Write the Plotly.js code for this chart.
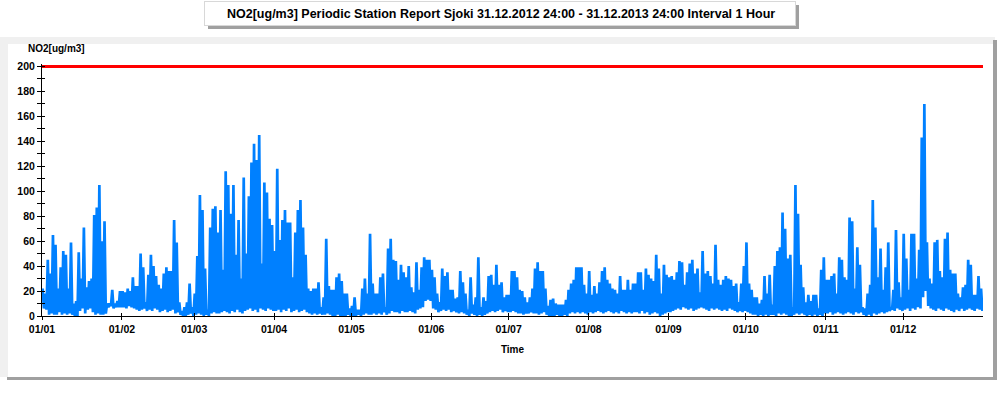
<!DOCTYPE html>
<html>
<head>
<meta charset="utf-8">
<script src="https://cdn.plot.ly/plotly-3.0.1.min.js"></script>
<style>
html,body{margin:0;padding:0;background:#ffffff;}
#chart{width:1004px;height:397px;}
</style>
</head>
<body>
<div id="chart"></div>
<script>
// ---------- data ----------
const chartTitle = 'NO2[ug/m3] Periodic Station Report Sjoki 31.12.2012 24:00 - 31.12.2013 24:00 Interval 1 Hour';
const yTitle = 'NO2[ug/m3]';
const xTitle = 'Time';
const monthStarts = ['2013-01-01','2013-02-01','2013-03-01','2013-04-01','2013-05-01','2013-06-01',
                     '2013-07-01','2013-08-01','2013-09-01','2013-10-01','2013-11-01','2013-12-01'];
const tickLabels = ['01/01','01/02','01/03','01/04','01/05','01/06','01/07','01/08','01/09','01/10','01/11','01/12'];
const yTicks = [0,20,40,60,80,100,120,140,160,180,200];
const limitValue = 200;          // red limit line
const startDate = '2013-01-01';
const endDate = '2014-01-01';

// daily maxima of the hourly series, one array per month
const maxJan = [22,18,45,34,65,57,22,39,52,49,22,59,10,12,51,30,71,23,28,30,81,87,105,60,76,10,10,21,10,12,20];
const maxFeb = [20,19,22,20,31,24,24,50,39,11,33,49,40,32,25,22,34,39,36,36,77,59,11,4,7,11,26,7];
const maxMar = [18,48,97,85,38,5,71,86,88,67,85,37,116,105,82,105,49,77,30,111,50,96,123,138,125,145,42,107,99,78,73];
const maxApr = [52,118,61,77,85,75,75,31,67,85,93,71,49,22,20,22,22,27,7,15,62,24,21,21,31,34,28,18,18,6];
const maxMay = [8,15,5,5,22,30,18,66,26,18,18,31,34,7,54,62,45,44,29,41,35,31,40,23,19,43,21,39,47,45,45];
const maxJun = [37,31,18,11,38,32,35,21,21,14,15,36,27,18,5,31,9,15,47,7,15,12,32,33,25,41,25,27,15,17];
const maxJul = [17,36,36,31,21,20,15,11,15,22,38,43,36,36,22,8,13,14,10,9,9,9,13,21,26,29,39,39,39,25,18];
const maxAug = [36,17,24,18,27,36,39,29,26,22,21,18,32,21,21,29,21,26,26,35,35,21,38,33,30,28,49,38,18,41,33];
const maxSep = [31,32,29,35,44,43,25,35,42,45,34,38,19,52,34,36,32,26,57,29,25,29,32,30,29,24,26,11,26,40];
const maxOct = [59,26,21,15,15,10,13,32,18,33,9,40,52,55,83,70,46,49,7,105,82,41,23,11,17,12,17,17,6,37,47];
const maxNov = [29,29,32,34,18,47,45,31,29,79,76,22,55,41,7,6,18,25,93,71,31,54,21,39,59,7,21,69,27,15];
const maxDec = [66,46,21,66,66,30,53,143,170,59,30,26,59,61,36,31,62,67,37,34,34,18,15,23,25,45,41,17,17,32,22];

// daily minima of the hourly series, one array per month
const minJan = [6,5,1,2,1,1,3,1,2,1,2,1,0,0,4,6,2,5,6,3,1,2,1,1,2,7,8,6,7,7,7];
const minFeb = [7,6,8,7,6,5,4,5,6,4,5,4,6,5,3,4,5,3,4,5,2,3,1,0,0,1,2,0];
const minMar = [1,2,1,0,1,0,2,3,2,2,3,4,3,2,4,3,5,3,2,4,5,6,4,5,3,6,5,4,6,5,4];
const minApr = [4,5,3,5,4,6,3,4,5,3,4,5,3,2,1,2,1,2,1,1,2,1,0,0,1,0,0,0,1,0];
const minMay = [0,0,1,0,1,2,1,1,2,1,2,1,3,1,2,4,3,3,2,4,3,3,4,3,2,5,6,7,12,13,12];
const minJun = [6,5,3,4,5,4,5,3,4,3,2,3,2,1,0,2,1,0,1,0,1,2,3,4,3,4,5,3,4,3];
const minJul = [3,4,3,2,2,1,2,2,3,2,2,1,2,3,1,0,0,0,1,0,0,1,0,2,3,2,3,2,3,2,1];
const minAug = [3,2,3,4,3,2,3,4,3,2,3,2,4,3,2,3,2,3,3,2,4,2,3,1,2,3,2,0,1,2,3];
const minSep = [3,4,5,6,5,7,6,5,6,4,5,6,7,6,5,4,6,5,6,5,4,5,4,6,5,4,3,4,3,4];
const minOct = [3,2,1,1,0,1,0,1,0,1,1,0,2,1,2,1,0,0,1,2,1,2,1,0,1,0,1,0,1,0,2];
const minNov = [2,3,1,2,3,2,1,2,3,2,1,3,2,3,1,0,1,0,2,1,2,3,2,3,4,5,4,6,5,4];
const minDec = [5,6,4,6,5,7,6,15,20,8,6,5,4,6,5,4,6,5,4,3,5,4,6,4,5,6,5,4,6,5,4];

// ---------- build traces ----------
const dailyMax = [].concat(maxJan,maxFeb,maxMar,maxApr,maxMay,maxJun,maxJul,maxAug,maxSep,maxOct,maxNov,maxDec);
const dailyMin = [].concat(minJan,minFeb,minMar,minApr,minMay,minJun,minJul,minAug,minSep,minOct,minNov,minDec);

const DAY = 86400000;
const T0 = Date.UTC(2013,0,1);
function fmt(ms){ return new Date(ms).toISOString().slice(0,19).replace('T',' '); }

const xs = [], ys = [];
for (let d = 0; d < dailyMax.length; d++) {
  xs.push(fmt(T0 + d*DAY + 6*3600000));  ys.push(dailyMax[d]);
  xs.push(fmt(T0 + d*DAY + 18*3600000)); ys.push(dailyMin[d]);
}

const series = {
  type: 'scatter', mode: 'lines', x: xs, y: ys,
  line: {color: '#0080ff', width: 2.7},
  hoverinfo: 'x+y', showlegend: false, xaxis: 'x', yaxis: 'y'
};
const limit = {
  type: 'scatter', mode: 'lines', x: [startDate, endDate], y: [limitValue, limitValue],
  line: {color: '#ff0000', width: 3}, showlegend: false, xaxis: 'x2', yaxis: 'y2', hoverinfo: 'skip'
};

// ---------- layout ----------
const W = 1004, H = 397, L = 42, R = 21, T = 64, B = 81;
const PW = W - L - R, PH = H - T - B;
const px = v => (v - L) / PW;
const py = v => (H - B - v) / PH;
const FONT = 'Liberation Sans, Arial, sans-serif';

function rect(x0, y0, x1, y1, color) {
  return {type: 'rect', xref: 'paper', yref: 'paper', layer: 'below',
          x0: px(x0), x1: px(x1), y0: py(y1), y1: py(y0),
          fillcolor: color, line: {width: 0}};
}

const yRange = [0, 202];
const xRange = [startDate, endDate];

const layout = {
  width: W, height: H,
  margin: {l: L, r: R, t: T, b: B, pad: 0},
  paper_bgcolor: 'rgba(0,0,0,0)',
  plot_bgcolor: 'rgba(0,0,0,0)',
  font: {family: FONT, color: '#000000'},
  showlegend: false,
  xaxis: {
    type: 'date', range: xRange, fixedrange: true,
    tickmode: 'array', tickvals: monthStarts, ticktext: tickLabels,
    ticks: 'outside', ticklen: 3, tickwidth: 1, tickcolor: '#000',
    showline: true, linecolor: '#000', linewidth: 1,
    showgrid: false, zeroline: false,
    tickfont: {family: FONT, size: 10.5, weight: 'bold', color: '#000'},
    title: {text: xTitle, font: {family: FONT, size: 10, weight: 'bold', color: '#000'}, standoff: 12}
  },
  xaxis2: {
    type: 'date', range: xRange, overlaying: 'x', anchor: 'y', side: 'bottom', fixedrange: true,
    tickmode: 'array', tickvals: monthStarts, ticks: 'inside', ticklen: 3, tickcolor: '#000',
    showticklabels: false, showline: false, showgrid: false, zeroline: false
  },
  yaxis: {
    range: yRange, fixedrange: true,
    tickmode: 'array', tickvals: yTicks,
    ticks: 'outside', ticklen: 4, tickwidth: 1, tickcolor: '#000',
    minor: {tickmode: 'linear', tick0: 0, dtick: 10, ticks: 'outside', ticklen: 4, tickcolor: '#000', showgrid: false},
    showline: true, linecolor: '#000', linewidth: 1,
    showgrid: false, zeroline: false,
    tickfont: {family: FONT, size: 10.5, weight: 'bold', color: '#000'}
  },
  yaxis2: {
    range: yRange, overlaying: 'y', anchor: 'x', side: 'left', fixedrange: true,
    tickmode: 'linear', tick0: 0, dtick: 10, ticks: 'inside', ticklen: 3, tickcolor: '#000',
    showticklabels: false, showline: false, showgrid: false, zeroline: false
  },
  shapes: [
    // outer panel: light frame, white face, dark shadow
    rect(0, 37, 995, 377, '#f0f0f0'),
    rect(8, 44, 993, 377, '#ffffff'),
    rect(993, 40, 997, 380, '#a0a0a0'),
    rect(7, 377, 997, 380, '#a0a0a0'),
    // title box with shadow
    rect(208, 5, 799, 29, '#a0a0a0'),
    rect(204, 1, 796, 26, '#d8d8d8'),
    rect(205, 2, 795, 25, '#ffffff')
  ],
  annotations: [
    {text: chartTitle, xref: 'paper', yref: 'paper', x: px(501), y: py(14),
     xanchor: 'center', yanchor: 'middle', showarrow: false,
     font: {family: FONT, size: 12.5, weight: 'bold', color: '#000'}},
    {text: yTitle, xref: 'paper', yref: 'paper', x: px(56), y: py(48),
     xanchor: 'center', yanchor: 'middle', showarrow: false,
     font: {family: FONT, size: 10, weight: 'bold', color: '#000'}}
  ]
};

Plotly.newPlot('chart', [series, limit], layout, {displayModeBar: false, staticPlot: true});
</script>
</body>
</html>
